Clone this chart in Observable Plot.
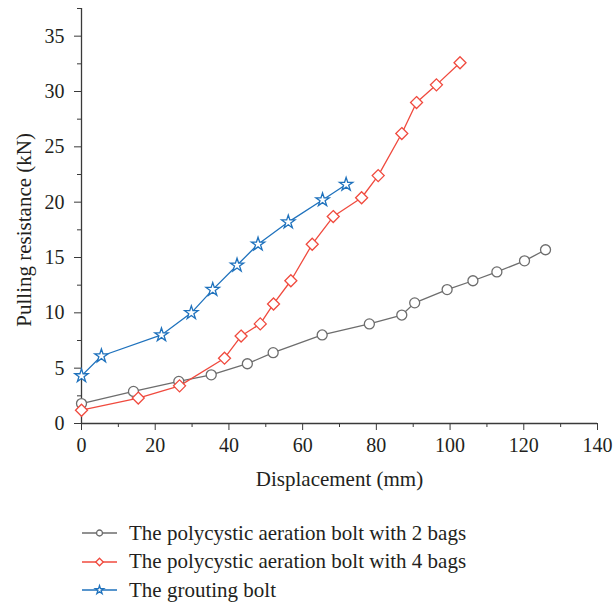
<!DOCTYPE html>
<html>
<head>
<meta charset="utf-8">
<script src="https://cdn.jsdelivr.net/npm/d3@7"></script>
<script src="https://cdn.jsdelivr.net/npm/@observablehq/plot@0.6"></script>
<style>
  html, body { margin: 0; padding: 0; background: #fff; }
  body { font-family: "Liberation Serif", "Times New Roman", serif; color: #231f20; width: 613px; }
  #legend { padding-top: 19px; margin-left: 82px; }
  .row { display: flex; align-items: center; height: 28.5px; font-size: 21px; }
  .row svg { margin-right: 12px; flex: none; }
</style>
</head>
<body>
<div id="chart"></div>
<div id="legend"></div>
<script>
// ---- data ----
const seriesNames = [
  "The polycystic aeration bolt with 2 bags",
  "The polycystic aeration bolt with 4 bags",
  "The grouting bolt"
];
const seriesColors = ["#6d6d6d", "#f04a3e", "#1f72bd"];
const seriesSymbols = ["circle", "diamond2", "star"];

const disp2 = [0, 14.1, 26.4, 35.2, 45.0, 52.0, 65.3, 78.1, 86.9, 90.4, 99.2, 106.2, 112.7, 120.2, 125.9];
const load2 = [1.8, 2.9, 3.8, 4.4, 5.4, 6.4, 8.0, 9.0, 9.8, 10.9, 12.1, 12.9, 13.7, 14.7, 15.7];

const disp4 = [0, 15.4, 26.6, 38.8, 43.3, 48.5, 52.1, 56.8, 62.6, 68.3, 76.0, 80.5, 86.9, 90.9, 96.3, 102.7];
const load4 = [1.2, 2.3, 3.4, 5.9, 7.9, 9.0, 10.8, 12.9, 16.2, 18.7, 20.4, 22.4, 26.2, 29.0, 30.6, 32.6];

const dispG = [0, 5.4, 21.7, 29.8, 35.6, 42.2, 47.9, 56.1, 65.4, 71.8];
const loadG = [4.3, 6.1, 8.0, 10.0, 12.1, 14.3, 16.2, 18.2, 20.2, 21.6];

const xTicks = [0, 20, 40, 60, 80, 100, 120, 140];
const xMinorTicks = [10, 30, 50, 70, 90, 110, 130];
const yTicks = [0, 5, 10, 15, 20, 25, 30, 35];
const yMinorTicks = [2.5, 7.5, 12.5, 17.5, 22.5, 27.5, 32.5, 37.5];

const xLabel = "Displacement (mm)";
const yLabel = "Pulling resistance (kN)";

// ---- build table ----
const toRows = (xs, ys, i) => xs.map((x, k) => ({x, y: ys[k], s: seriesNames[i]}));
const sets = [toRows(disp2, load2, 0), toRows(disp4, load4, 1), toRows(dispG, loadG, 2)];
const dotR = [5, 5.4, 4.2];

const ink = "#231f20";
const axisColor = "#3a3a3a";

const marks = [];
sets.forEach((d, i) => {
  marks.push(Plot.line(d, {x: "x", y: "y", stroke: seriesColors[i], strokeWidth: 1.3}));
});
sets.forEach((d, i) => {
  marks.push(Plot.dot(d, {x: "x", y: "y", symbol: () => seriesSymbols[i], r: dotR[i], stroke: seriesColors[i], fill: "white", strokeWidth: 1.3}));
});

const chart = Plot.plot({
  width: 613,
  height: 500,
  marginLeft: 81,
  marginRight: 16,
  marginTop: 8,
  marginBottom: 77,
  style: {fontFamily: '"Liberation Serif", "Times New Roman", serif', color: ink, background: "white"},
  x: {domain: [0, 140]},
  y: {domain: [0, 37.5]},
  symbol: {type: "identity"},
  marks: [
    Plot.axisX({ticks: xMinorTicks, tickSize: 4, tickFormat: () => "", stroke: axisColor, label: null}),
    Plot.axisX({ticks: xTicks, tickSize: 7, tickPadding: 7, fontSize: 20, stroke: axisColor, fill: ink, label: null}),
    Plot.axisY({ticks: yMinorTicks, tickSize: 4, tickFormat: () => "", stroke: axisColor, label: null}),
    Plot.axisY({ticks: yTicks, tickSize: 7, tickPadding: 10, fontSize: 20, stroke: axisColor, fill: ink, label: null}),
    Plot.ruleX([0], {stroke: axisColor, strokeWidth: 1.3}),
    Plot.ruleY([0], {stroke: axisColor, strokeWidth: 1.3}),
    ...marks,
    Plot.text([xLabel], {x: () => 70, frameAnchor: "bottom", lineAnchor: "middle", textAnchor: "middle", dy: 56, fontSize: 21, fill: ink, text: d => d}),
    Plot.text([yLabel], {y: () => 17.5, frameAnchor: "left", textAnchor: "middle", lineAnchor: "middle", dx: -57, rotate: -90, fontSize: 21, fill: ink, text: d => d})
  ]
});
document.getElementById("chart").appendChild(chart);

// ---- legend ----
const legend = d3.select("#legend");
seriesNames.forEach((name, i) => {
  const row = legend.append("div").attr("class", "row");
  const svg = row.append("svg").attr("width", 35).attr("height", 20);
  svg.append("line").attr("x1", 0).attr("x2", 35).attr("y1", 10).attr("y2", 10)
    .attr("stroke", seriesColors[i]).attr("stroke-width", 1.3);
  const symType = [d3.symbolCircle, d3.symbolDiamond2, d3.symbolStar][i];
  const size = [28, 36, 22][i];
  svg.append("path").attr("d", d3.symbol(symType, size)())
    .attr("transform", "translate(17.5,10)")
    .attr("fill", "white").attr("stroke", seriesColors[i]).attr("stroke-width", 1.3);
  row.append("span").text(name);
});
</script>
</body>
</html>
